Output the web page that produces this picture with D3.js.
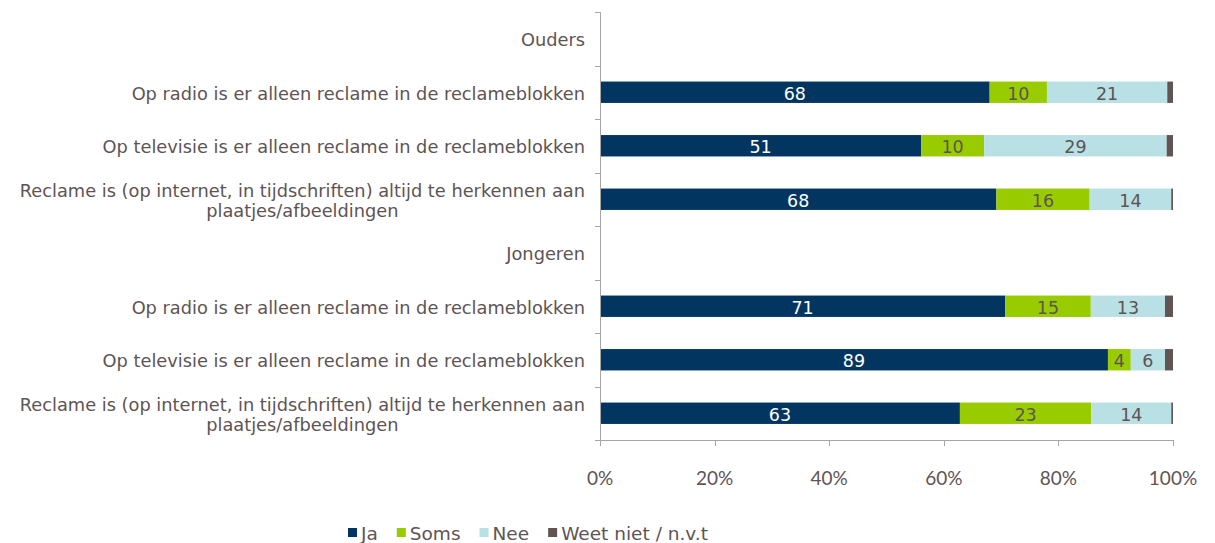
<!doctype html>
<html lang="nl">
<head>
<meta charset="utf-8">
<title>Reclame herkennen</title>
<script src="https://d3js.org/d3.v7.min.js"></script>
<style>
    body { margin: 0; background: #fff; }
    svg text { font-family: "DejaVu Sans", Verdana, sans-serif; fill: #5e5454; }
    svg text.tick-label { font-family: Lato, "Open Sans", sans-serif; }
</style>
</head>
<body>
<svg id="chart" width="1215" height="543"></svg>
<script>
    // rows of the chart (group headers have no bar)
    const categories = [
        "Ouders",
        "Op radio is er alleen reclame in de reclameblokken",
        "Op televisie is er alleen reclame in de reclameblokken",
        "Reclame is (op internet, in tijdschriften) altijd te herkennen aan|plaatjes/afbeeldingen",
        "Jongeren",
        "Op radio is er alleen reclame in de reclameblokken",
        "Op televisie is er alleen reclame in de reclameblokken",
        "Reclame is (op internet, in tijdschriften) altijd te herkennen aan|plaatjes/afbeeldingen"
    ];
    const seriesNames = ["Ja", "Soms", "Nee", "Weet niet / n.v.t"];
    const ja       = [null, 68, 51, 68, null, 71, 89, 63];
    const soms     = [null, 10, 10, 16, null, 15, 4, 23];
    const nee      = [null, 21, 29, 14, null, 13, 6, 14];
    const weetNiet = [null, 1, 1, 0.3, null, 1.4, 1.4, 0.3];
    const xTicks = [0, 0.2, 0.4, 0.6, 0.8, 1];

    const colors = ["#023660", "#99cc00", "#b9e0e4", "#605552"];
    const labelColors = ["#ffffff", "#5e5454", "#5e5454", null];

    const svg = d3.select("#chart");
    const plotLeft = 600, plotRight = 1173, plotTop = 12, plotBottom = 440;

    const rows = categories.map((c, i) => ({
        idx: i, label: c,
        "Ja": ja[i], "Soms": soms[i], "Nee": nee[i], "Weet niet / n.v.t": weetNiet[i]
    }));
    const barRows = rows.filter(r => r["Ja"] !== null);

    const x = d3.scaleLinear().domain([0, 1]).range([plotLeft, plotRight]);
    const y = d3.scaleBand().domain(d3.range(categories.length)).range([plotTop, plotBottom]).paddingInner(0.6).paddingOuter(0.3);
    const yBand = d3.scaleBand().domain(d3.range(categories.length)).range([plotTop, plotBottom]);

    const stack = d3.stack().keys(seriesNames).offset(d3.stackOffsetExpand);
    const stacked = stack(barRows);

    // bars
    stacked.forEach((layer, k) => {
        const g = svg.append("g");
        g.selectAll("rect").data(layer).enter().append("rect")
            .attr("x", d => x(d[0]))
            .attr("y", d => y(d.data.idx))
            .attr("width", d => Math.max(0, x(d[1]) - x(d[0])))
            .attr("height", y.bandwidth())
            .attr("fill", colors[k]);
        if (labelColors[k]) {
            g.selectAll("text").data(layer).enter().append("text")
                .attr("x", d => (x(d[0]) + x(d[1])) / 2)
                .attr("y", d => y(d.data.idx) + y.bandwidth() / 2 + 1)
                .attr("dy", "0.36em")
                .attr("text-anchor", "middle")
                .style("font-size", "17.5px")
                .style("fill", labelColors[k])
                .text(d => d.data[seriesNames[k]]);
        }
    });

    // y axis
    const axisColor = "#a6a6a6";
    svg.append("line")
        .attr("x1", plotLeft + 0.5).attr("x2", plotLeft + 0.5)
        .attr("y1", plotTop).attr("y2", plotBottom)
        .attr("stroke", axisColor);
    const yEdges = d3.range(categories.length + 1).map(i => i === categories.length ? plotBottom : yBand(i));
    svg.selectAll(".ytick").data(yEdges).enter().append("line")
        .attr("x1", plotLeft - 5).attr("x2", plotLeft)
        .attr("y1", d => Math.round(d) + 0.5).attr("y2", d => Math.round(d) + 0.5)
        .attr("stroke", axisColor);

    // category labels
    const catG = svg.append("g");
    rows.forEach(r => {
        const lines = r.label.split("|");
        const cy = yBand(r.idx) + yBand.bandwidth() / 2 + 1;
        const t = catG.append("text").style("font-size", "17.8px").attr("text-anchor", "middle");
        const lh = 20;
        const spans = lines.map((l, i) => t.append("tspan")
            .attr("y", cy + (i - (lines.length - 1) / 2) * lh)
            .attr("dy", "0.36em")
            .text(l));
        const w = d3.max(spans, s => s.node().getComputedTextLength());
        spans.forEach(s => s.attr("x", 585 - w / 2));
    });

    // x axis
    svg.append("line")
        .attr("x1", plotLeft).attr("x2", plotRight + 0.5)
        .attr("y1", plotBottom + 0.5).attr("y2", plotBottom + 0.5)
        .attr("stroke", axisColor);
    svg.selectAll(".xtick").data(xTicks).enter().append("line")
        .attr("x1", d => Math.round(x(d)) + 0.5).attr("x2", d => Math.round(x(d)) + 0.5)
        .attr("y1", plotBottom).attr("y2", plotBottom + 6)
        .attr("stroke", axisColor);
    svg.selectAll(".xlabel").data(xTicks).enter().append("text")
        .attr("class", "tick-label")
        .attr("x", d => x(d))
        .attr("y", 478)
        .attr("dy", "0.36em")
        .attr("text-anchor", "middle")
        .style("font-size", "19px")
        .text(d => d3.format(".0%")(d));

    // legend
    const legend = svg.append("g");
    let lx = 348;
    seriesNames.forEach((name, k) => {
        legend.append("rect")
            .attr("x", lx).attr("y", 528)
            .attr("width", 9).attr("height", 9)
            .attr("fill", colors[k]);
        const t = legend.append("text")
            .attr("x", lx + 13).attr("y", 533)
            .attr("dy", "0.36em")
            .style("font-size", "18.5px")
            .text(name);
        lx += 13 + t.node().getComputedTextLength() + 19;
    });
</script>
</body>
</html>
